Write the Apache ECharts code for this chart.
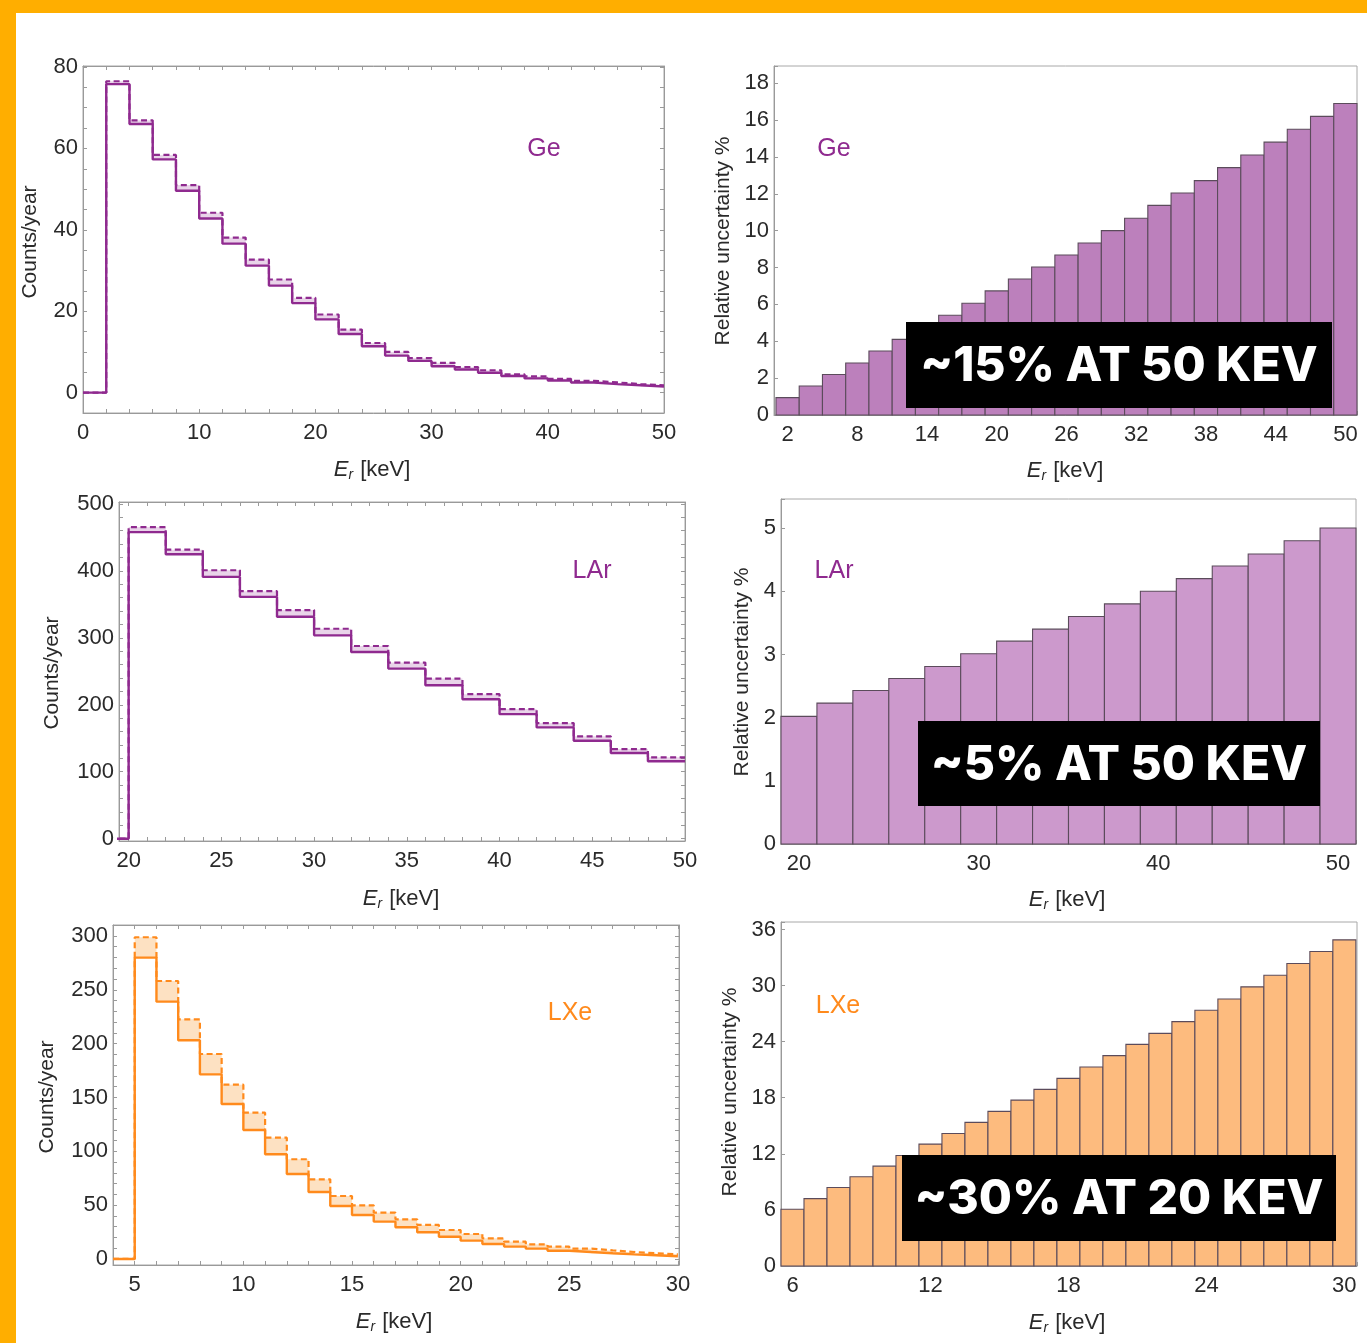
<!DOCTYPE html>
<html><head><meta charset="utf-8">
<script src="https://cdn.jsdelivr.net/npm/echarts@6/dist/echarts.min.js"></script>
<style>html,body{margin:0;padding:0;background:#fff}#c{width:1367px;height:1343px}</style>
</head><body><div id="c"></div>
<script>
// ===== DATA =====
// Counts/year histograms (solid = lower, dashed = upper), bins start at binStart, width binW
const geBinStart = 2, geBinW = 2, geLead = 0;
const geSolid  = [75.8, 66.0, 57.3, 49.6, 42.8, 36.6, 31.2, 26.3, 22.0, 18.0, 14.4, 11.4, 9.1, 7.8, 6.5, 5.7, 4.9, 4.1, 3.5, 3.0, 2.5, 2.1, 1.8, 1.5];
const geDashed = [76.5, 66.9, 58.4, 51.0, 44.2, 38.1, 32.7, 27.8, 23.3, 19.2, 15.5, 12.2, 10.0, 8.5, 7.3, 6.3, 5.5, 4.5, 4.0, 3.4, 2.9, 2.5, 2.1, 1.8];

const larBinStart = 20, larBinW = 2, larLead = 19;
const larSolid  = [457.8, 424.6, 390.9, 361.1, 331.3, 303.6, 278.8, 254.0, 229.2, 208.3, 186.0, 166.2, 146.3, 128.0, 115.6];
const larDashed = [465.3, 431.5, 400.8, 369.5, 341.3, 313.5, 287.7, 262.9, 239.1, 215.8, 193.5, 172.6, 152.8, 133.9, 121.5];

const lxeBinStart = 5, lxeBinW = 1, lxeLead = 4;
const lxeSolid  = [279.9, 239.0, 203.1, 171.5, 144.0, 119.8, 97.2, 78.9, 62.2, 49.2, 40.9, 34.7, 29.4, 24.8, 20.7, 17.0, 13.9, 11.5, 9.6, 7.7, 6.5, 5.3, 4.3, 3.4, 2.5];
const lxeDashed = [298.8, 258.2, 222.6, 190.4, 161.9, 135.9, 112.7, 92.6, 74.0, 58.5, 49.8, 43.0, 36.8, 31.6, 26.9, 23.2, 19.2, 16.1, 13.6, 11.5, 9.6, 8.0, 6.5, 5.3, 4.3];

// Relative uncertainty % (bar centres and heights)
const geRelX   = [2,4,6,8,10,12,14,16,18,20,22,24,26,28,30,32,34,36,38,40,42,44,46,48,50];
const geRelV   = [0.94,1.57,2.2,2.82,3.47,4.1,4.75,5.41,6.06,6.73,7.38,8.03,8.68,9.33,10.0,10.67,11.37,12.04,12.71,13.42,14.1,14.8,15.5,16.2,16.9];
const larRelX  = [20,22,24,26,28,30,32,34,36,38,40,42,44,46,48,50];
const larRelV  = [2.02,2.23,2.43,2.62,2.81,3.01,3.21,3.40,3.60,3.80,4.00,4.20,4.40,4.59,4.80,5.00];
const lxeRelX  = [6,7,8,9,10,11,12,13,14,15,16,17,18,19,20,21,22,23,24,25,26,27,28,29,30];
const lxeRelV  = [6.07,7.21,8.39,9.54,10.68,11.82,13.04,14.18,15.36,16.54,17.75,18.89,20.07,21.29,22.5,23.71,24.89,26.14,27.36,28.57,29.86,31.11,32.36,33.64,34.89];

// Tick labels
const geCntXTicks  = [0,10,20,30,40,50];
const geCntYTicks  = [0,20,40,60,80];
const larCntXTicks = [20,25,30,35,40,45,50];
const larCntYTicks = [0,100,200,300,400,500];
const lxeCntXTicks = [5,10,15,20,25,30];
const lxeCntYTicks = [0,50,100,150,200,250,300];
const geRelXTicks  = [2,8,14,20,26,32,38,44,50];
const geRelYTicks  = [0,2,4,6,8,10,12,14,16,18];
const larRelXTicks = [20,30,40,50];
const larRelYTicks = [0,1,2,3,4,5];
const lxeRelXTicks = [6,12,18,24,30];
const lxeRelYTicks = [0,6,12,18,24,30,36];

const labels = {ge: 'Ge', lar: 'LAr', lxe: 'LXe'};
const notes = ['~15% AT 50 KEV', '~5% AT 50 KEV', '~30% AT 20 KEV'];

// ===== STYLE =====
const PURPLE = '#8f2a8f', ORANGE = '#ff8a1c';
const AX = '#9a9a9a', TXT = '#2a2a2a';
const FONT = '"Liberation Sans", Arial, Helvetica, sans-serif';

const grids = [
  {left: 83,  top: 66,  width: 581, height: 347},
  {left: 774, top: 66,  width: 583, height: 349},
  {left: 119, top: 502, width: 566, height: 339},
  {left: 781, top: 499, width: 575, height: 345},
  {left: 113, top: 925, width: 566, height: 340},
  {left: 781, top: 922, width: 576, height: 344}
].map(g => Object.assign({show: true, borderColor: '#a8a8a8', borderWidth: 1, containLabel: false}, g));

const xAxes = [], yAxes = [];
function fmt(list) { return v => (list.indexOf(Math.round(v * 1000) / 1000) >= 0 ? String(Math.round(v * 1000) / 1000) : ''); }
function addAxes(gi, xr, yr, xs, ys, xl, yl, mirror) {
  const base = {gridIndex: gi, type: 'value', splitLine: {show: false}, scale: true,
    axisLine: {show: true, onZero: false, lineStyle: {color: AX, width: 1}},
    axisTick: {show: true, inside: true, length: 4, lineStyle: {color: AX}}};
  const lab = {color: TXT, fontSize: 22, fontFamily: FONT};
  xAxes.push(Object.assign({}, base, {position: 'bottom', min: xr[0], max: xr[1], minInterval: xs, maxInterval: xs,
    axisLabel: Object.assign({formatter: fmt(xl), margin: 9}, lab)}));
  yAxes.push(Object.assign({}, base, {position: 'left', min: yr[0], max: yr[1], minInterval: ys, maxInterval: ys,
    axisLabel: Object.assign({formatter: fmt(yl), margin: 5}, lab)}));
  if (mirror) {
    xAxes.push(Object.assign({}, base, {position: 'top', min: xr[0], max: xr[1], minInterval: xs, maxInterval: xs, axisLabel: {show: false}}));
    yAxes.push(Object.assign({}, base, {position: 'right', min: yr[0], max: yr[1], minInterval: ys, maxInterval: ys, axisLabel: {show: false}}));
  }
  return [xAxes.length - (mirror ? 2 : 1), yAxes.length - (mirror ? 2 : 1)];
}

const ax1 = addAxes(0, [0, 50],      [-5, 80.25],   2, 5,  geCntXTicks,  geCntYTicks,  true);
const ax2 = addAxes(1, [0.83, 51],   [0, 18.93],    2, 2,  geRelXTicks,  geRelYTicks,  false);
const ax3 = addAxes(2, [19.48, 50],  [-3.4, 502.7], 1, 20, larCntXTicks, larCntYTicks, true);
const ax4 = addAxes(3, [19, 51],     [0, 5.46],     2, 1,  larRelXTicks, larRelYTicks, false);
const ax5 = addAxes(4, [4, 30.05],   [-5.6, 310.2], 1, 10, lxeCntXTicks, lxeCntYTicks, true);
const ax6 = addAxes(5, [5.5, 30.55], [0, 36.8],     1, 6,  lxeRelXTicks, lxeRelYTicks, false);

function steps(lead, start, w, vals) {
  const pts = [[lead, 0]];
  vals.forEach((v, i) => pts.push([start + i * w, v]));
  pts.push([start + vals.length * w, vals[vals.length - 1]]);
  return pts;
}
const series = [];
function histo(ax, lead, start, w, solid, dashed, color, fill) {
  // shaded band between the two histograms
  series.push({type: 'custom', xAxisIndex: ax[0], yAxisIndex: ax[1], z: 2,
    data: solid.map((s, i) => [start + i * w, s, dashed[i]]),
    renderItem: (p, api) => {
      const x = api.value(0);
      const a = api.coord([x, api.value(2)]), b = api.coord([x + w, api.value(1)]);
      return {type: 'rect', shape: {x: a[0], y: a[1], width: b[0] - a[0], height: b[1] - a[1]}, style: {fill: fill}};
    }});
  series.push({type: 'line', xAxisIndex: ax[0], yAxisIndex: ax[1],
    step: 'end', showSymbol: false, z: 3, data: steps(lead, start, w, dashed),
    lineStyle: {color: color, width: 2.2, type: [6, 3.5]}, itemStyle: {color: color}});
  series.push({type: 'line', xAxisIndex: ax[0], yAxisIndex: ax[1],
    step: 'end', showSymbol: false, z: 4, data: steps(lead, start, w, solid),
    lineStyle: {color: color, width: 2.4}, itemStyle: {color: color}});
}
histo(ax1, geLead, geBinStart, geBinW, geSolid, geDashed, PURPLE, 'rgba(143,42,143,0.2)');
histo(ax3, larLead, larBinStart, larBinW, larSolid, larDashed, PURPLE, 'rgba(143,42,143,0.2)');
histo(ax5, lxeLead, lxeBinStart, lxeBinW, lxeSolid, lxeDashed, ORANGE, '#fde1c2');

function bars(ax, xs, vs, w, fill) {
  series.push({type: 'custom', xAxisIndex: ax[0], yAxisIndex: ax[1], z: 2,
    data: xs.map((x, i) => [x, vs[i]]),
    renderItem: (p, api) => {
      const x = api.value(0), v = api.value(1);
      const a = api.coord([x - w / 2, v]), b = api.coord([x + w / 2, 0]);
      return {type: 'rect', shape: {x: a[0], y: a[1], width: b[0] - a[0], height: b[1] - a[1]},
        style: {fill: fill, stroke: '#5b4b5b', lineWidth: 1.1}};
    }});
}
bars(ax2, geRelX, geRelV, 2, '#bc80bc');
bars(ax4, larRelX, larRelV, 2, '#cc99cc');
bars(ax6, lxeRelX, lxeRelV, 1, '#fdbb7e');

// ===== GRAPHIC TEXT =====
const G = [];
function txt(x, y, text, opt) {
  const s = Object.assign({text: text, x: 0, y: 0, fill: TXT, font: '21px ' + FONT,
    align: 'center', verticalAlign: 'middle', textAlign: 'center', textVerticalAlign: 'middle'}, opt && opt.style);
  G.push(Object.assign({type: 'text', x: x, y: y, z: 100, style: s}, opt && opt.extra));
}
function ylab(x, y, t) { txt(x, y, t, {extra: {rotation: Math.PI / 2}}); }
function xlab(x, y) {
  txt(x, y, '{e|E}{s|r} [keV]', {style: {rich: {
    e: {fontStyle: 'italic', fontSize: 22, fontFamily: FONT, fill: TXT},
    s: {fontStyle: 'italic', fontSize: 14, fontFamily: FONT, fill: TXT, verticalAlign: 'bottom', padding: [10, 1, 0, 0]}
  }, font: '22px ' + FONT}});
}
ylab(30, 242, 'Counts/year');
ylab(52, 673, 'Counts/year');
ylab(47, 1097, 'Counts/year');
ylab(723, 241, 'Relative uncertainty %');
ylab(742, 672, 'Relative uncertainty %');
ylab(730, 1092, 'Relative uncertainty %');
xlab(372, 470); xlab(1065, 471);
xlab(401, 899); xlab(1067, 900);
xlab(394, 1322); xlab(1067, 1323);

const tagFont = '25px ' + FONT;
txt(544, 149, labels.ge, {style: {fill: PURPLE, font: tagFont}});
txt(834, 149, labels.ge, {style: {fill: PURPLE, font: tagFont}});
txt(592, 571, labels.lar, {style: {fill: PURPLE, font: tagFont}});
txt(834, 571, labels.lar, {style: {fill: PURPLE, font: tagFont}});
txt(570, 1013, labels.lxe, {style: {fill: ORANGE, font: tagFont}});
txt(838, 1006, labels.lxe, {style: {fill: ORANGE, font: tagFont}});

function note(x0, y0, x1, y1, t) {
  G.push({type: 'rect', z: 110, shape: {x: x0, y: y0, width: x1 - x0, height: y1 - y0}, style: {fill: '#000'}});
  G.push({type: 'text', z: 111, x: (x0 + x1) / 2, y: (y0 + y1) / 2 + 2,
    style: {text: t, fill: '#fff', font: '800 48px Inter, "Open Sans", sans-serif',
      align: 'center', verticalAlign: 'middle', textAlign: 'center', textVerticalAlign: 'middle'}});
}
note(906, 322, 1332, 408, notes[0]);
note(918, 721, 1320, 806, notes[1]);
note(902, 1155, 1336, 1241, notes[2]);

// orange frame bands
G.push({type: 'rect', z: 120, shape: {x: 0, y: 0, width: 1367, height: 13}, style: {fill: '#ffae00'}});
G.push({type: 'rect', z: 120, shape: {x: 0, y: 0, width: 16, height: 1343}, style: {fill: '#ffae00'}});

const chart = echarts.init(document.getElementById('c'), null, {renderer: 'canvas'});
chart.setOption({
  backgroundColor: '#fff',
  animation: false,
  grid: grids,
  xAxis: xAxes,
  yAxis: yAxes,
  series: series,
  graphic: {elements: G}
});
</script></body></html>
